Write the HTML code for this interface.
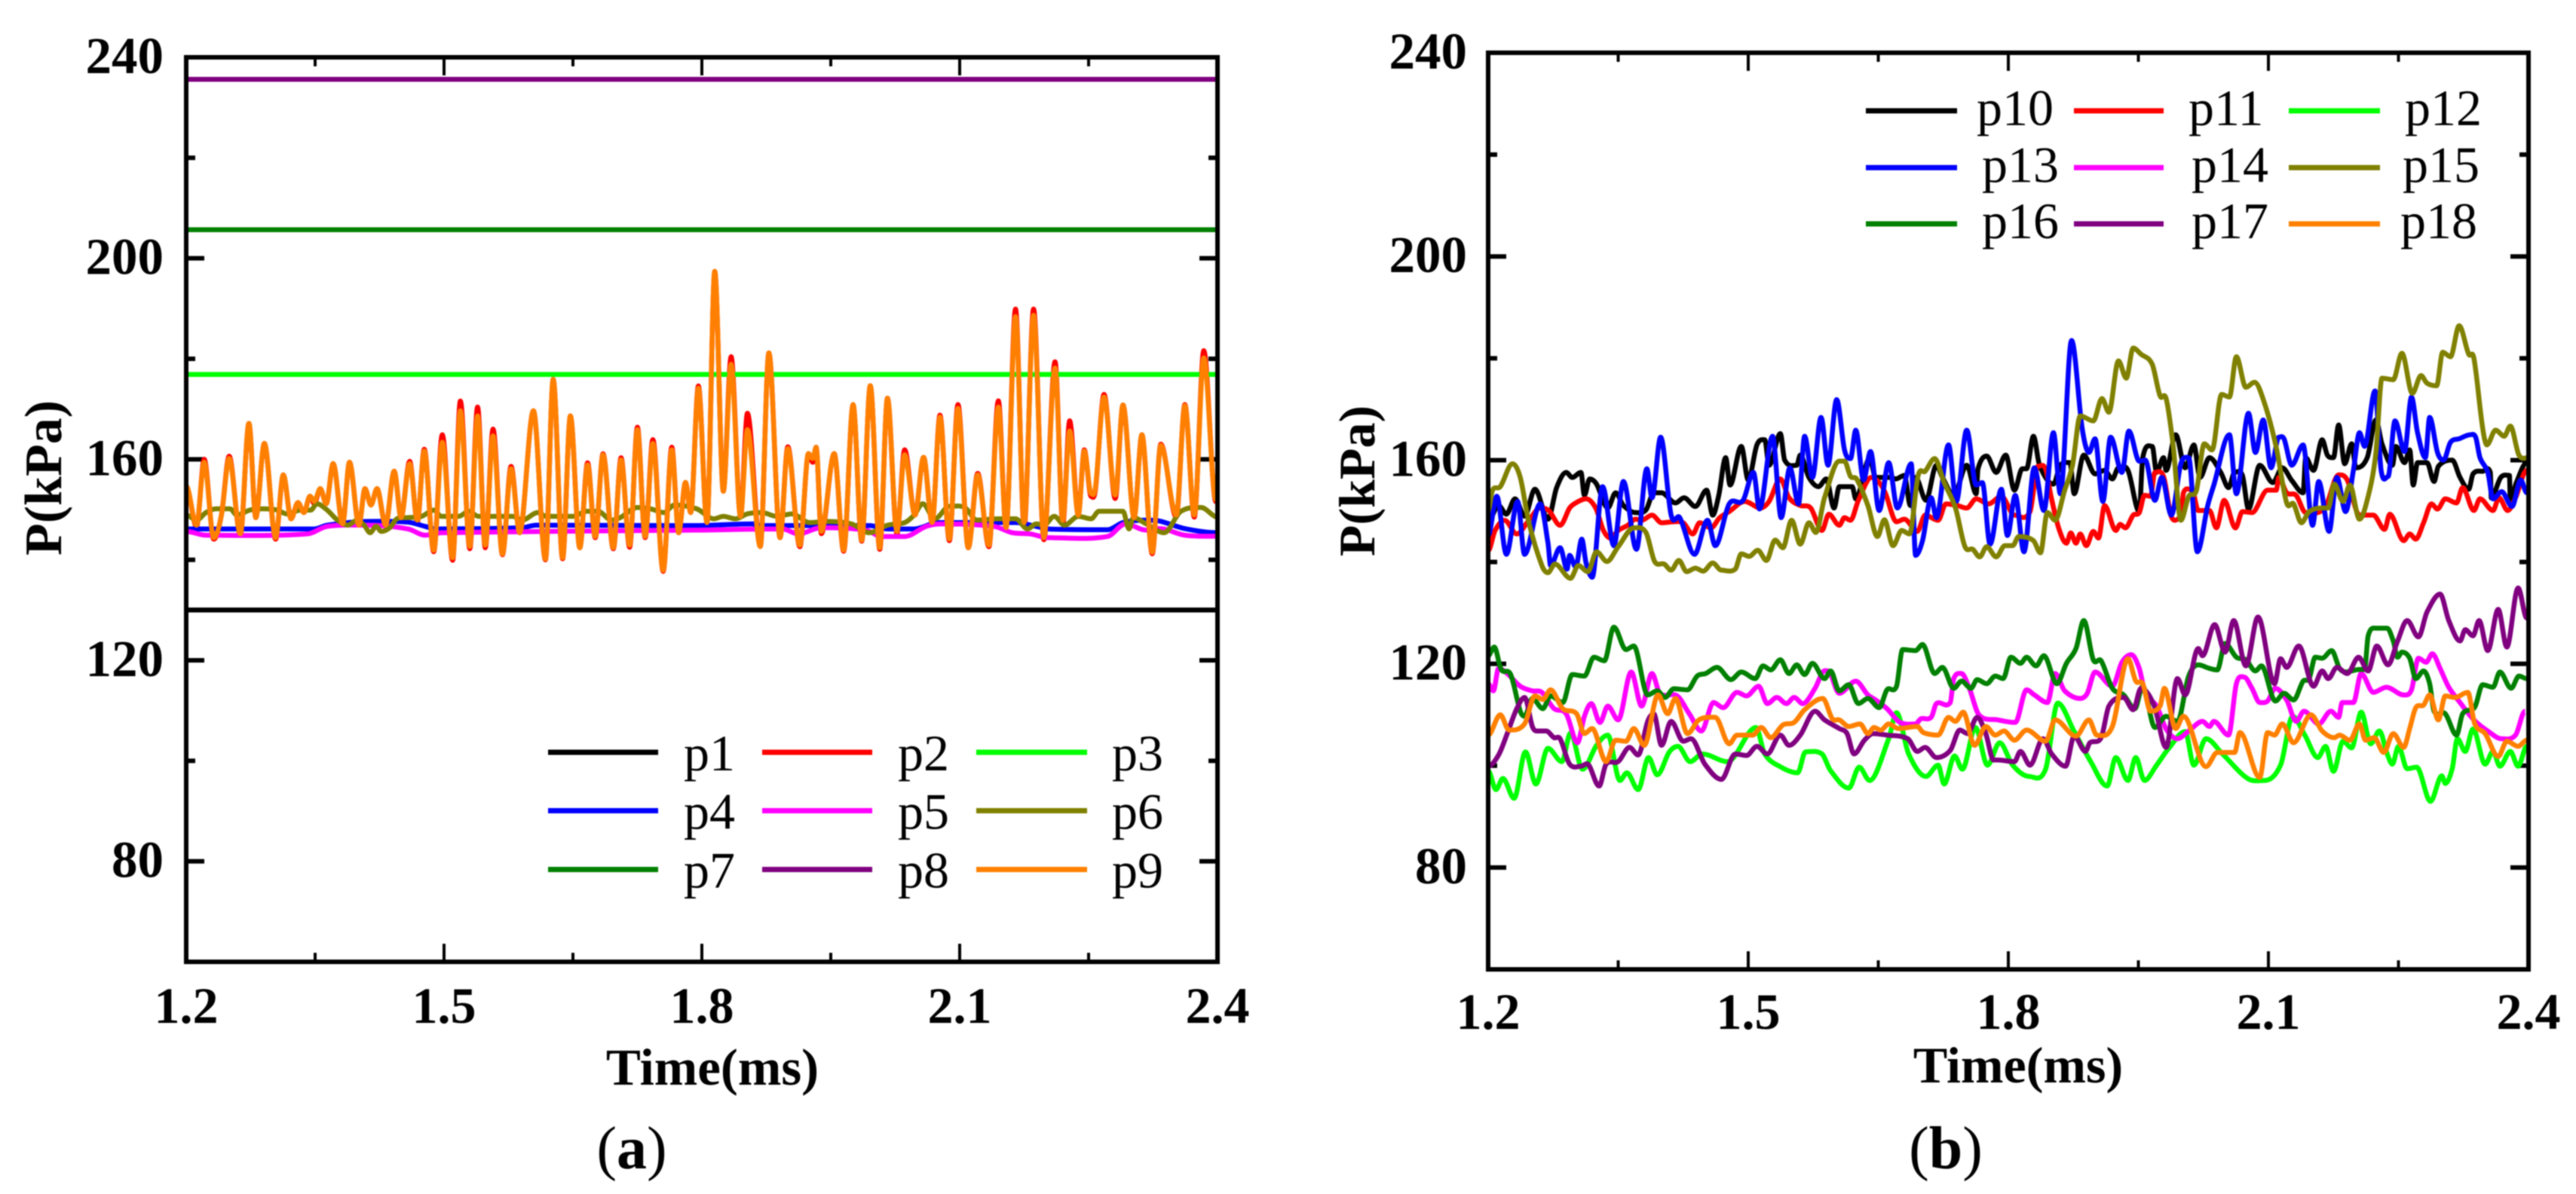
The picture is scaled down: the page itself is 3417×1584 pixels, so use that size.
<!DOCTYPE html>
<html lang="en">
<head>
<meta charset="utf-8">
<title>Pressure vs time charts</title>
<style>
html,body{margin:0;padding:0;background:#fff;}
svg{display:block;filter:blur(0.7px);}
text{font-family:"Liberation Serif",serif;fill:#000;}
.bold{font-weight:bold;}
</style>
</head>
<body>
<svg id="figure" xmlns="http://www.w3.org/2000/svg" width="3417" height="1584" viewBox="0 0 3417 1584">
  <rect width="3417" height="1584" fill="#fff"/>
  <g id="chart-a"></g>
  <g id="chart-b"></g>
  <text class="bold" x="945" y="1439" font-size="69" text-anchor="middle">Time(ms)</text>
  <text class="bold" x="2677" y="1436" font-size="68" text-anchor="middle">Time(ms)</text>
  <text class="bold" transform="translate(81 634) rotate(-90)" font-size="70" text-anchor="middle">P(kPa)</text>
  <text class="bold" transform="translate(1823 638) rotate(-90)" font-size="68" text-anchor="middle">P(kPa)</text>
  <text x="838" y="1550" font-size="80" text-anchor="middle">(<tspan class="bold">a</tspan>)</text>
  <text x="2581" y="1550" font-size="80" text-anchor="middle">(<tspan class="bold">b</tspan>)</text>
</svg>
<script>
const xTickLabels = ["1.2","1.5","1.8","2.1","2.4"];
const xMajorTicks = [1.2,1.5,1.8,2.1,2.4];
const xMinorTicks = [1.35,1.65,1.95,2.25];
const yTickLabels = ["240","200","160","120","80"];
const yMajorTicks = [240,200,160,120,80];
const yMinorTicks = [220,180,140,100];

const p1Points = [[1.2,130],[2.4,130]];
const p3Points = [[1.2,176.9],[2.4,176.9]];
const p7Points = [[1.2,205.7],[2.4,205.7]];
const p8Points = [[1.2,235.6],[2.4,235.6]];
const p4Points = [[1.2,146.15],[1.349,146.15],[1.364,146.9],[1.411,147.65],[1.458,147.5],[1.478,146.65],[1.49,146.15],[1.591,146.4],[1.607,146.9],[1.79,146.8],[1.86,147.15],[1.863,146.8],[1.995,146.8],[2.016,146.15],[2.047,146.15],[2.075,147.4],[2.165,147.4],[2.189,146.65],[2.203,146.15],[2.272,146],[2.29,147.4],[2.317,147.9],[2.333,147.7],[2.362,146.2],[2.4,145.4]];
const p5Points = [[1.2,145.65],[1.223,144.9],[1.341,145.15],[1.364,146.65],[1.411,146.9],[1.458,146.15],[1.478,144.9],[1.497,145.4],[1.79,145.9],[1.894,146.15],[1.912,145.15],[1.939,146.4],[1.991,145.9],[2.009,144.65],[2.036,144.65],[2.061,146.65],[2.078,147.15],[2.14,146.65],[2.161,145.4],[2.182,145.15],[2.203,144.4],[2.272,144.65],[2.293,147.15],[2.317,145.9],[2.333,146.2],[2.362,144.9],[2.4,144.7]];
const p6Points = [[1.2,148.9],[1.212,147.9],[1.223,149.4],[1.235,150.15],[1.251,150.15],[1.259,148.9],[1.274,149.9],[1.29,150.15],[1.306,149.9],[1.317,149.15],[1.333,149.9],[1.345,149.9],[1.352,151.15],[1.364,149.9],[1.376,147.9],[1.388,146.9],[1.399,147.9],[1.407,146.9],[1.414,145.4],[1.421,146.65],[1.427,145.65],[1.437,146.4],[1.445,148.15],[1.458,148.4],[1.474,148.65],[1.488,149.9],[1.497,148.65],[1.517,148.65],[1.529,149.65],[1.54,148.65],[1.56,148.65],[1.58,148.65],[1.591,147.9],[1.609,149.4],[1.619,148.65],[1.65,148.65],[1.666,149.65],[1.679,149.65],[1.695,147.9],[1.705,148.4],[1.725,150.4],[1.74,150.15],[1.756,149.4],[1.768,150.9],[1.794,150.15],[1.814,148.15],[1.825,148.65],[1.839,148.15],[1.853,149.15],[1.87,149.4],[1.887,148.65],[1.905,149.15],[1.925,147.4],[1.946,147.65],[1.974,147.15],[1.995,145.4],[2.016,146.9],[2.036,147.4],[2.047,148.9],[2.057,151.15],[2.071,148.15],[2.088,150.65],[2.106,150.4],[2.12,147.9],[2.144,148.15],[2.165,148.15],[2.179,146.15],[2.189,147.15],[2.198,146.9],[2.21,148.65],[2.222,146.9],[2.238,148.65],[2.253,148.15],[2.262,149.65],[2.29,149.65],[2.297,146.15],[2.302,148.4],[2.317,147.15],[2.338,145.4],[2.357,149.6],[2.381,150.4],[2.4,148.5]];
const p9Points = [[1.2,154.65],[1.212,146.9],[1.221,159.4],[1.232,144.4],[1.241,148.9],[1.25,160.15],[1.263,145.15],[1.273,167.15],[1.281,148.4],[1.291,163.15],[1.304,144.4],[1.313,156.9],[1.322,148.15],[1.33,151.4],[1.337,149.4],[1.344,152.65],[1.349,151.65],[1.356,154.15],[1.363,151.15],[1.371,159.15],[1.382,147.15],[1.39,159.4],[1.401,146.9],[1.408,154.15],[1.415,150.9],[1.422,154.15],[1.432,146.9],[1.442,157.65],[1.45,148.4],[1.46,159.15],[1.469,147.9],[1.477,161.65],[1.488,141.9],[1.498,163.4],[1.51,140.4],[1.519,169.65],[1.53,142.65],[1.539,168.65],[1.548,142.9],[1.557,164.65],[1.568,141.15],[1.578,158.15],[1.588,145.4],[1.604,169.65],[1.618,140.15],[1.627,175.9],[1.638,140.4],[1.647,168.65],[1.658,142.4],[1.667,158.9],[1.676,144.65],[1.685,160.9],[1.697,142.4],[1.706,159.9],[1.716,142.9],[1.725,165.9],[1.734,144.65],[1.743,163.15],[1.755,137.9],[1.765,161.9],[1.773,145.4],[1.781,155.4],[1.787,149.4],[1.796,174.15],[1.806,147.4],[1.815,197.4],[1.825,153.65],[1.834,178.9],[1.845,148.65],[1.853,165.9],[1.868,142.65],[1.878,181.15],[1.891,144.4],[1.9,162.15],[1.914,142.9],[1.924,161.15],[1.929,160.15],[1.933,162.4],[1.939,145.65],[1.954,161.15],[1.965,141.9],[1.976,170.9],[1.986,143.9],[1.996,174.65],[2.007,142.4],[2.016,172.15],[2.027,145.65],[2.036,160.9],[2.048,148.9],[2.058,160.4],[2.068,147.4],[2.077,168.4],[2.088,144.15],[2.098,170.15],[2.11,142.4],[2.121,156.9],[2.134,142.9],[2.145,170.4],[2.154,146.4],[2.165,188.4],[2.175,147.4],[2.186,188.65],[2.198,144.4],[2.211,178.15],[2.22,147.9],[2.228,165.65],[2.238,148.9],[2.245,161.65],[2.253,153.15],[2.258,154.4],[2.268,172.4],[2.281,152.9],[2.29,170.8],[2.303,148.4],[2.312,164.9],[2.324,141.5],[2.334,162.8],[2.352,148.9],[2.362,170.7],[2.373,148.9],[2.384,180.2],[2.398,152]];
const p2Points = [[1.2,154.65],[1.212,146.6],[1.221,160],[1.232,144.1],[1.241,148.9],[1.25,160.6],[1.263,144.9],[1.273,167.15],[1.281,148.4],[1.291,163.15],[1.304,144.1],[1.313,156.9],[1.322,148.15],[1.33,151.4],[1.337,149.4],[1.344,152.65],[1.349,151.2],[1.356,154.15],[1.363,151.15],[1.371,159.15],[1.382,147.15],[1.39,159.4],[1.401,146.9],[1.408,154.15],[1.415,150.9],[1.422,154.15],[1.432,146.9],[1.442,157.65],[1.45,148.4],[1.46,159.6],[1.469,147.6],[1.477,162],[1.488,141.6],[1.498,164.9],[1.51,139.9],[1.519,171.6],[1.53,142.2],[1.539,170.4],[1.548,142.4],[1.557,166],[1.568,141],[1.578,158.6],[1.588,145.4],[1.604,169.65],[1.618,140],[1.627,175.9],[1.638,140.2],[1.647,168.65],[1.658,142.4],[1.667,159.3],[1.676,144.4],[1.685,161.1],[1.697,142.2],[1.706,160.3],[1.716,142.5],[1.725,166.4],[1.734,144.4],[1.743,163.9],[1.755,137.7],[1.765,162.4],[1.773,145.4],[1.781,155.4],[1.787,149.4],[1.796,174.6],[1.806,147.4],[1.815,197.4],[1.825,153.65],[1.834,180.4],[1.845,148.65],[1.853,169.15],[1.868,142.65],[1.878,181.15],[1.891,144.4],[1.9,162.5],[1.914,142.6],[1.924,161.15],[1.929,159.4],[1.933,162.4],[1.939,145.2],[1.954,161.15],[1.965,141.7],[1.976,170.9],[1.986,143.7],[1.996,174.65],[2.007,142.1],[2.016,172.15],[2.027,145.2],[2.036,161.9],[2.048,148.9],[2.058,160.4],[2.068,147.4],[2.077,168.8],[2.088,143.8],[2.098,170.9],[2.11,142.4],[2.121,157.2],[2.134,142.6],[2.145,171.65],[2.154,146.4],[2.165,189.9],[2.175,146.6],[2.186,189.9],[2.198,144],[2.211,179.4],[2.22,147.2],[2.228,167.65],[2.238,148.9],[2.245,161.9],[2.253,152.6],[2.258,154],[2.268,172.9],[2.281,152.2],[2.29,170.8],[2.303,148.4],[2.312,164.9],[2.324,141.2],[2.334,163],[2.352,148.5],[2.362,170.9],[2.373,148.5],[2.384,181.6],[2.398,151.6]];

const p10Points = [[1.2,148],[1.212,151.1],[1.221,149.4],[1.231,152.4],[1.242,149],[1.254,154.3],[1.269,148.4],[1.279,154.6],[1.29,157.6],[1.297,156.6],[1.307,157.6],[1.311,153.1],[1.317,156.3],[1.325,155.3],[1.338,150.6],[1.347,153.6],[1.356,151.1],[1.37,149.7],[1.382,150.2],[1.391,153.6],[1.4,153.6],[1.416,151.6],[1.426,152.6],[1.439,150.9],[1.452,154.1],[1.459,149.2],[1.466,153.1],[1.474,160.5],[1.479,155.1],[1.492,162.7],[1.5,156.1],[1.51,163],[1.519,164],[1.524,159],[1.537,165.2],[1.542,160],[1.556,159],[1.56,161],[1.57,156.6],[1.581,154.8],[1.59,156.3],[1.599,150.6],[1.605,154.8],[1.62,154.8],[1.624,152.4],[1.64,160.3],[1.647,156.6],[1.664,156.6],[1.67,156.3],[1.68,157],[1.687,151.1],[1.693,156.6],[1.705,152.1],[1.717,159],[1.724,156.6],[1.737,153.1],[1.752,159],[1.763,153.4],[1.765,158.3],[1.775,160.8],[1.786,157.6],[1.797,161],[1.807,154.1],[1.816,158.3],[1.821,158.3],[1.829,164.7],[1.836,159],[1.852,155.3],[1.86,159],[1.871,159.5],[1.876,153.4],[1.887,161],[1.9,157.3],[1.911,158],[1.92,156.3],[1.927,158.5],[1.938,158],[1.951,149.9],[1.955,160.5],[1.966,162.7],[1.971,157.6],[1.979,160.5],[1.982,158],[1.993,165],[2.004,158.5],[2.014,163],[2.021,156.6],[2.032,160.5],[2.045,157.6],[2.054,154.6],[2.061,157.6],[2.07,157],[2.077,150.4],[2.09,159],[2.105,155.6],[2.116,158.5],[2.127,156],[2.14,153.6],[2.143,160.5],[2.152,158],[2.162,164],[2.168,161],[2.175,160.5],[2.181,166.9],[2.188,159.3],[2.196,163.2],[2.201,158.5],[2.214,160.5],[2.224,167.9],[2.231,163.2],[2.243,159],[2.247,162.7],[2.257,159.5],[2.263,162],[2.267,155.1],[2.272,159.5],[2.283,159.5],[2.291,155.8],[2.296,158.8],[2.312,160],[2.321,156.6],[2.331,154.3],[2.336,157.3],[2.347,157.8],[2.356,157.6],[2.357,152.6],[2.368,156.6],[2.378,157],[2.379,152.1],[2.386,155.6],[2.398,159.5]];
const p11Points = [[1.2,142.2],[1.208,146.2],[1.219,148.2],[1.233,145.5],[1.247,148.2],[1.26,150.6],[1.27,150.1],[1.283,147.2],[1.294,150.6],[1.301,151.6],[1.313,152.4],[1.324,150.6],[1.333,146.2],[1.341,144.7],[1.35,146.2],[1.361,147.2],[1.37,148.4],[1.377,148.2],[1.389,149.2],[1.4,147.7],[1.414,147.9],[1.425,147.7],[1.436,145.5],[1.444,147.7],[1.457,146.7],[1.467,148.7],[1.478,149.9],[1.496,151.9],[1.514,150.6],[1.524,151.9],[1.537,156.3],[1.547,152.6],[1.56,151.1],[1.572,150.6],[1.585,146.2],[1.593,149.4],[1.605,147.2],[1.611,148.7],[1.618,148.2],[1.627,152.1],[1.642,156.6],[1.651,155.6],[1.658,153.6],[1.671,147.9],[1.68,148.4],[1.695,146],[1.704,149.2],[1.719,148.2],[1.728,151.4],[1.741,151.1],[1.752,150.6],[1.763,152.4],[1.777,151.4],[1.792,152.9],[1.807,149.2],[1.825,149.9],[1.834,158.8],[1.843,158.3],[1.849,153.1],[1.858,146.7],[1.867,143.7],[1.872,145.7],[1.878,143.7],[1.883,145.5],[1.89,143.2],[1.898,146],[1.904,144.7],[1.911,151.1],[1.924,146.2],[1.929,147.4],[1.935,146.7],[1.944,149.2],[1.951,149.7],[1.957,153.1],[1.964,152.9],[1.969,157.6],[1.979,156.8],[1.988,148.9],[1.999,148.7],[2.002,153.6],[2.012,154.1],[2.019,150.1],[2.032,150.1],[2.04,146.7],[2.049,152.1],[2.062,146.7],[2.07,149.9],[2.081,149.7],[2.099,154.1],[2.109,154.1],[2.112,156.6],[2.121,153.6],[2.132,153.1],[2.143,149.7],[2.165,150.6],[2.181,157.1],[2.191,156.1],[2.205,149.2],[2.221,149.2],[2.234,146.4],[2.24,149.4],[2.256,144.2],[2.263,145.5],[2.27,144.5],[2.279,147.7],[2.288,151.4],[2.295,150.4],[2.304,152.4],[2.317,151.6],[2.324,154.6],[2.337,150.1],[2.344,152.4],[2.359,150.1],[2.366,152.6],[2.376,150.1],[2.385,152.6],[2.398,158]];
const p12Points = [[1.2,99],[1.209,95.3],[1.217,97.5],[1.23,93.6],[1.243,102.7],[1.255,96.4],[1.269,103.4],[1.285,100.8],[1.295,106.4],[1.309,99.3],[1.325,104],[1.338,106],[1.352,97.1],[1.36,98.6],[1.373,95.3],[1.385,101.6],[1.395,98.2],[1.409,102.7],[1.419,103.8],[1.433,100.8],[1.447,102.3],[1.476,100.8],[1.509,107.5],[1.519,102.3],[1.538,99.7],[1.557,98.6],[1.566,102.7],[1.585,102.3],[1.595,99],[1.616,95.6],[1.628,99.7],[1.64,97.1],[1.662,105.3],[1.671,110.4],[1.685,102.3],[1.705,97.9],[1.719,100.1],[1.726,96.4],[1.738,101.9],[1.747,99.3],[1.762,107.5],[1.776,100.1],[1.79,104.5],[1.805,100.1],[1.824,97.9],[1.843,99.3],[1.857,112.3],[1.876,106.7],[1.895,100.8],[1.914,96],[1.924,101.6],[1.938,97.1],[1.947,101.6],[1.957,97.1],[1.971,100.1],[1.985,103.4],[2.004,106.7],[2.014,100.1],[2.028,105.3],[2.047,102.3],[2.076,97.5],[2.095,97.1],[2.114,100.1],[2.128,109.7],[2.142,106],[2.157,101.6],[2.166,103.8],[2.175,98.9],[2.186,104.8],[2.196,103.5],[2.207,110.5],[2.218,104.3],[2.228,106.8],[2.237,102.3],[2.243,100.3],[2.25,103.8],[2.26,99.4],[2.271,99.7],[2.287,93],[2.3,98],[2.304,96.5],[2.312,99.4],[2.318,105.3],[2.327,102.8],[2.336,107.2],[2.35,100.3],[2.359,102.8],[2.367,99.9],[2.379,102.8],[2.388,99.9],[2.398,103.8]];
const p13Points = [[1.2,145.2],[1.21,152.9],[1.221,141.5],[1.234,151.9],[1.242,141.5],[1.26,151.4],[1.269,143.8],[1.272,139.3],[1.283,142.8],[1.291,138.6],[1.294,141.3],[1.301,139],[1.308,144.5],[1.313,139.8],[1.32,137],[1.332,154.8],[1.345,143.2],[1.356,155.8],[1.371,142.5],[1.383,158.3],[1.389,152.6],[1.399,164.5],[1.411,149.2],[1.421,148.7],[1.438,141.5],[1.453,148.2],[1.462,143.2],[1.478,151.4],[1.494,152.1],[1.506,157.6],[1.513,150.4],[1.528,164.7],[1.538,148.7],[1.548,158.5],[1.558,151.4],[1.565,164.7],[1.574,156.6],[1.584,168.4],[1.592,159],[1.602,171.9],[1.611,162],[1.618,160.3],[1.624,165.9],[1.633,156.1],[1.641,161.7],[1.651,150.1],[1.662,159.5],[1.672,150.6],[1.688,159.3],[1.693,141.3],[1.701,144.2],[1.711,152.6],[1.717,148.7],[1.731,163],[1.74,151.9],[1.752,165.9],[1.763,155.1],[1.77,155.6],[1.779,143.5],[1.792,154.3],[1.799,145.2],[1.808,153.1],[1.818,142],[1.83,158.5],[1.841,150.1],[1.852,165.4],[1.86,153.4],[1.873,183.5],[1.885,166.4],[1.893,161.5],[1.9,164.2],[1.909,151.9],[1.918,164.5],[1.931,157.6],[1.939,165.7],[1.951,159.8],[1.958,160],[1.969,152.1],[1.977,156.6],[1.988,149.2],[1.999,159.3],[2.008,160.5],[2.018,142],[2.03,151.1],[2.037,155.1],[2.055,165],[2.063,153.4],[2.077,169.2],[2.085,161.5],[2.094,167.9],[2.103,158.5],[2.112,164.5],[2.118,164.2],[2.127,159],[2.14,163],[2.151,147.2],[2.158,155.8],[2.17,146],[2.179,156.6],[2.189,149.9],[2.198,158],[2.205,165.4],[2.211,162.7],[2.223,173.6],[2.23,158],[2.238,156.8],[2.246,167.7],[2.257,161.7],[2.265,172.4],[2.272,165.4],[2.281,160.5],[2.286,168.4],[2.295,161.5],[2.302,160],[2.31,163.5],[2.32,164.2],[2.333,165],[2.339,164.5],[2.344,160.5],[2.353,157.6],[2.359,152.4],[2.369,153.8],[2.381,150.9],[2.391,156.1],[2.398,153.6]];
const p14Points = [[1.2,116.1],[1.206,114.7],[1.212,119.1],[1.222,118.1],[1.237,115.6],[1.251,114.7],[1.262,114.4],[1.276,111.2],[1.29,110.2],[1.303,104.5],[1.311,109.7],[1.319,112.2],[1.329,108.5],[1.338,111.7],[1.35,109],[1.365,118.4],[1.377,111.7],[1.389,118.1],[1.398,114.2],[1.418,113.7],[1.432,110.2],[1.446,106.8],[1.46,112.4],[1.471,111.4],[1.487,114.4],[1.498,113.7],[1.512,115.6],[1.522,112.2],[1.533,113.4],[1.544,112.2],[1.553,113.4],[1.563,112.2],[1.577,115.2],[1.586,118.4],[1.592,118.6],[1.605,114.2],[1.624,116.6],[1.638,113.9],[1.647,112.9],[1.66,111.2],[1.675,108.5],[1.693,108.2],[1.699,109.2],[1.711,109.5],[1.717,112.2],[1.733,112.4],[1.737,117.1],[1.746,118.1],[1.755,115.2],[1.766,110],[1.788,109],[1.808,108.5],[1.821,114.9],[1.83,113.9],[1.845,112.4],[1.854,118.1],[1.865,114.7],[1.883,113.2],[1.891,114.2],[1.9,118.4],[1.92,115.6],[1.931,120.3],[1.942,121.8],[1.951,119.1],[1.958,114.2],[1.971,111.7],[1.982,107.2],[1.995,105.3],[2.008,106.8],[2.024,108.7],[2.032,107.7],[2.037,108.7],[2.054,106],[2.063,116.1],[2.072,117.4],[2.081,115.2],[2.09,112.4],[2.099,112.7],[2.108,115.2],[2.121,112.9],[2.132,108.7],[2.141,110.7],[2.158,108.2],[2.172,110.7],[2.181,109.5],[2.185,112.4],[2.198,112.4],[2.207,118.1],[2.221,114.4],[2.236,115.4],[2.256,113.9],[2.265,114.9],[2.273,121.1],[2.282,120.3],[2.289,122],[2.298,119.1],[2.308,115.4],[2.321,112.4],[2.337,109],[2.353,106.8],[2.369,105.3],[2.385,106],[2.396,110.7]];
const p15Points = [[1.2,150.1],[1.205,154.1],[1.214,154.8],[1.228,159.3],[1.237,156.6],[1.247,147.7],[1.262,139.3],[1.269,137.9],[1.277,139.6],[1.295,136.8],[1.304,139.3],[1.315,138.1],[1.325,142],[1.337,140.1],[1.35,143],[1.368,146.7],[1.382,145.8],[1.392,140.1],[1.403,139.6],[1.411,138.4],[1.42,140.3],[1.429,138.1],[1.439,138.8],[1.448,138.2],[1.459,139.8],[1.469,138.4],[1.485,138.6],[1.492,141.6],[1.501,141.1],[1.511,142.3],[1.521,140.3],[1.531,144.3],[1.54,142.8],[1.55,148.2],[1.56,143.5],[1.57,147.7],[1.578,145.8],[1.588,152.6],[1.605,159.8],[1.611,159.8],[1.618,156.8],[1.625,156.3],[1.638,151.1],[1.649,145],[1.657,148.3],[1.667,143.2],[1.677,146.2],[1.686,145.5],[1.696,157],[1.704,157.8],[1.715,160.3],[1.726,155.6],[1.739,150.6],[1.75,143],[1.759,142.5],[1.767,141],[1.775,143],[1.786,141],[1.796,143.2],[1.805,143.2],[1.812,145],[1.829,144.2],[1.837,141.8],[1.845,149.7],[1.854,148.2],[1.865,154.1],[1.874,159],[1.883,168.7],[1.898,167.7],[1.908,172.1],[1.916,169.4],[1.927,179.5],[1.936,176.1],[1.944,182],[1.953,180.8],[1.966,178.8],[1.975,172.6],[1.982,172.1],[1.99,163],[1.999,148.2],[2.008,152.9],[2.017,154.1],[2.026,163.2],[2.035,162],[2.046,172.9],[2.055,172.4],[2.063,180.3],[2.074,174.3],[2.084,175.3],[2.096,170.9],[2.109,162.5],[2.121,151.6],[2.129,151.4],[2.138,147.7],[2.147,149.9],[2.162,150.6],[2.169,150.6],[2.176,155.3],[2.186,151.9],[2.194,155.1],[2.205,148.4],[2.217,154.3],[2.224,161.5],[2.231,176.1],[2.244,175.8],[2.254,181],[2.266,173.1],[2.276,176.6],[2.283,175.1],[2.294,174.6],[2.301,181.2],[2.31,180.3],[2.32,186.4],[2.331,180.8],[2.337,180],[2.347,166.4],[2.352,163],[2.362,165.9],[2.372,164.7],[2.379,166.7],[2.389,161],[2.399,160.5]];
const p16Points = [[1.2,121.6],[1.207,123.3],[1.215,118.9],[1.226,117.9],[1.237,110.7],[1.242,109.7],[1.251,113.2],[1.263,111.2],[1.272,113.7],[1.286,112.4],[1.297,117.9],[1.311,117.6],[1.322,121.3],[1.334,120.6],[1.345,127.2],[1.359,122.8],[1.368,123.5],[1.384,113.9],[1.395,114.7],[1.404,113.4],[1.414,115.1],[1.43,114.9],[1.441,117.6],[1.451,118.1],[1.464,119.3],[1.48,116.9],[1.492,118.4],[1.508,117.1],[1.517,119.6],[1.526,118.8],[1.537,120.8],[1.547,118.1],[1.556,119.8],[1.565,117.9],[1.574,120.1],[1.588,117.1],[1.595,118.6],[1.605,114.7],[1.616,115.9],[1.627,112.2],[1.638,113.2],[1.651,111.4],[1.66,114.9],[1.671,115.6],[1.678,122.8],[1.693,122.6],[1.701,123.8],[1.715,118.1],[1.724,119.3],[1.737,115.2],[1.746,116.6],[1.757,115.2],[1.764,116.9],[1.775,116.1],[1.785,117.6],[1.794,117.1],[1.803,121.3],[1.814,120.1],[1.821,121.3],[1.832,119.6],[1.841,121.6],[1.856,116.1],[1.867,120.1],[1.878,123],[1.887,128.5],[1.898,120.8],[1.907,120.6],[1.92,115.2],[1.933,113.9],[1.946,111.2],[1.955,115.6],[1.969,107.5],[1.982,109.7],[1.995,108.7],[2.008,117.6],[2.019,119.8],[2.032,119.1],[2.041,118.8],[2.05,124],[2.063,121.3],[2.074,120.8],[2.085,118.6],[2.092,119.6],[2.108,112.7],[2.118,114.2],[2.129,112.9],[2.14,116.6],[2.147,117.1],[2.154,121.3],[2.162,121.1],[2.173,122.6],[2.182,119.1],[2.189,118.4],[2.205,118.9],[2.211,118.9],[2.215,125.5],[2.224,127],[2.237,127],[2.244,124.5],[2.249,121.3],[2.254,122.3],[2.263,121.1],[2.27,117.1],[2.279,118.6],[2.286,116.1],[2.291,110.7],[2.304,110.2],[2.317,106],[2.324,110.2],[2.338,111.5],[2.347,115.9],[2.359,115.4],[2.367,118.4],[2.38,115.2],[2.389,117.6],[2.398,117.1]];
const p17Points = [[1.2,99.9],[1.212,102.1],[1.222,106.3],[1.233,111.2],[1.242,113.4],[1.251,107.7],[1.256,106.8],[1.267,106.8],[1.276,105.5],[1.283,105.3],[1.294,100.3],[1.307,99.9],[1.314,100.4],[1.328,96],[1.336,100.3],[1.35,100.8],[1.363,103.6],[1.373,102.1],[1.384,108.7],[1.391,110.2],[1.4,104],[1.411,108.7],[1.425,104.8],[1.434,105.3],[1.45,100.3],[1.469,97.3],[1.485,102.3],[1.498,102],[1.51,103.8],[1.522,102.3],[1.537,106],[1.547,104],[1.56,106],[1.577,110.7],[1.588,109],[1.605,107.3],[1.614,106.3],[1.622,102.3],[1.634,105],[1.644,106.3],[1.66,106],[1.684,105.3],[1.695,102.8],[1.704,103.6],[1.717,101.6],[1.733,103],[1.744,107],[1.753,106.3],[1.764,109.5],[1.774,106.3],[1.783,101.1],[1.788,101.1],[1.807,100.8],[1.814,102.8],[1.825,100.1],[1.84,105.3],[1.85,102.3],[1.866,99.9],[1.876,105.8],[1.889,102.8],[1.894,104.5],[1.907,105.5],[1.916,111.7],[1.933,113.4],[1.944,111],[1.953,115.2],[1.968,111.9],[1.982,103.6],[1.995,117.1],[2.004,113.9],[2.019,123],[2.024,121.6],[2.038,127.7],[2.05,122.3],[2.06,128.5],[2.074,119.6],[2.088,129.2],[2.107,116.1],[2.114,121],[2.121,119.3],[2.135,123.5],[2.152,115.6],[2.162,118.6],[2.169,117.1],[2.179,119.3],[2.191,118.1],[2.204,121.3],[2.215,118.6],[2.225,123.5],[2.238,119.8],[2.249,124.5],[2.26,128.5],[2.273,125.3],[2.283,130.2],[2.298,133.7],[2.308,128.5],[2.321,124.5],[2.327,126.7],[2.336,125.5],[2.343,128.5],[2.353,122.6],[2.365,130.7],[2.375,123.3],[2.388,134.9],[2.398,129]];
const p18Points = [[1.2,106],[1.214,110],[1.224,107],[1.242,108.2],[1.254,113.7],[1.263,113],[1.272,114.9],[1.286,111.2],[1.302,110.2],[1.311,106.3],[1.32,107.3],[1.336,100.8],[1.347,105],[1.359,104.8],[1.368,107.3],[1.38,104],[1.396,113.9],[1.407,110.2],[1.416,113.2],[1.43,106.3],[1.443,109],[1.462,109.5],[1.478,104.3],[1.487,106],[1.505,106],[1.515,107.5],[1.526,105.5],[1.54,108],[1.553,108.5],[1.565,111],[1.586,113.2],[1.597,109.2],[1.605,109],[1.616,107.7],[1.629,108.2],[1.638,106.3],[1.645,107.5],[1.653,107],[1.662,108.2],[1.673,107.3],[1.695,107.7],[1.702,106.5],[1.719,106],[1.731,109.5],[1.739,108.7],[1.748,110.5],[1.761,104],[1.774,107.7],[1.785,106],[1.795,106.8],[1.807,105],[1.821,107],[1.843,104.8],[1.854,109],[1.878,105.8],[1.893,109],[1.902,106],[1.92,107.7],[1.938,121],[1.947,116.6],[1.955,116.1],[1.964,110.7],[1.975,111.7],[1.98,115.2],[1.993,107.3],[2.002,109.7],[2.028,99.8],[2.041,102.6],[2.061,102.6],[2.067,106.5],[2.09,97.7],[2.099,106.5],[2.107,106],[2.116,108.2],[2.129,104.5],[2.149,110],[2.162,106.8],[2.176,105.5],[2.182,106],[2.194,105],[2.205,108.2],[2.212,105],[2.222,105.5],[2.233,102.6],[2.244,106.3],[2.256,103.6],[2.263,107.3],[2.27,111.4],[2.279,111.9],[2.286,113.9],[2.296,109],[2.304,113.7],[2.315,113.4],[2.33,114.4],[2.338,108.2],[2.35,106.3],[2.365,101.8],[2.375,104.8],[2.388,103.8],[2.398,105]];

const NS = "http://www.w3.org/2000/svg";
function mk(parent, tag, props){
  const el = document.createElementNS(NS, tag);
  for(const k in props){ el.setAttribute(k, props[k]); }
  parent.appendChild(el);
  return el;
}
function linearScale(d0, d1, r0, r1){
  return function(v){ return r0 + (v - d0) / (d1 - d0) * (r1 - r0); };
}
function smoothPath(px){
  const n = px.length;
  const m = px.map(function(p, i){
    if(i === 0 || i === n - 1){ return 0; }
    const a = p[1] - px[i - 1][1], b = px[i + 1][1] - p[1];
    if(a * b <= 0){ return 0; }
    return (px[i + 1][1] - px[i - 1][1]) / (px[i + 1][0] - px[i - 1][0]);
  });
  let d = "M" + px[0][0].toFixed(1) + " " + px[0][1].toFixed(1);
  for(let i = 1; i < n; i++){
    const h = (px[i][0] - px[i - 1][0]) / 3;
    d += "C" + (px[i - 1][0] + h).toFixed(1) + " " + (px[i - 1][1] + m[i - 1] * h).toFixed(1) + " " +
         (px[i][0] - h).toFixed(1) + " " + (px[i][1] - m[i] * h).toFixed(1) + " " +
         px[i][0].toFixed(1) + " " + px[i][1].toFixed(1);
  }
  return d;
}
function drawChart(cfg){
  const g = document.getElementById(cfg.id);
  const xScale = linearScale(1.2, 2.4, cfg.left, cfg.right);
  const yScale = linearScale(60, 240, cfg.bottom, cfg.top);

  xMajorTicks.forEach(function(t, i){
    const x = xScale(t);
    const top = mk(g, "line", {x1:x, x2:x, y1:cfg.top, y2:cfg.top + 24, stroke:"#000", "stroke-width":4});
    
    
    const bot = mk(g, "line", {x1:x, x2:x, y1:cfg.bottom, y2:cfg.bottom - 24, stroke:"#000", "stroke-width":4});
    
    
    const label = mk(g, "text", {x:x, y:cfg.xLabelY, "font-size":68, "text-anchor":"middle", "font-weight":"bold"});
    label.textContent = xTickLabels[i];
    
    
  });
  xMinorTicks.forEach(function(t){
    const x = xScale(t);
    const top = mk(g, "line", {x1:x, x2:x, y1:cfg.top, y2:cfg.top + 12, stroke:"#000", "stroke-width":4});
    
    
    const bot = mk(g, "line", {x1:x, x2:x, y1:cfg.bottom, y2:cfg.bottom - 12, stroke:"#000", "stroke-width":4});
    
    
  });
  yMajorTicks.forEach(function(v, i){
    const y = yScale(v);
    const l = mk(g, "line", {x1:cfg.left, x2:cfg.left + 24, y1:y, y2:y, stroke:"#000", "stroke-width":6});
    
    
    const r = mk(g, "line", {x1:cfg.right, x2:cfg.right - 24, y1:y, y2:y, stroke:"#000", "stroke-width":6});
    
    
    const label = mk(g, "text", {x:cfg.yLabelRight, y:y + 21, "font-size":69, "text-anchor":"end", "font-weight":"bold"});
    label.textContent = yTickLabels[i];
    
    
  });
  yMinorTicks.forEach(function(v){
    const y = yScale(v);
    const l = mk(g, "line", {x1:cfg.left, x2:cfg.left + 12, y1:y, y2:y, stroke:"#000", "stroke-width":6});
    
    
    const r = mk(g, "line", {x1:cfg.right, x2:cfg.right - 12, y1:y, y2:y, stroke:"#000", "stroke-width":6});
    
    
  });

  cfg.series.forEach(function(s){
    const px = s.points.map(function(p){ return [xScale(p[0]), yScale(p[1])]; });
    const path = mk(g, "path", {d:smoothPath(px), fill:"none", stroke:s.color, "stroke-width":6.5, "stroke-linejoin":"round", "stroke-linecap":"butt"});
    
    
  });

  const frame = mk(g, "rect", {x:cfg.left, y:cfg.top, width:cfg.right - cfg.left, height:cfg.bottom - cfg.top, fill:"none", stroke:"#000", "stroke-width":6});
  
  

  cfg.series.forEach(function(s, i){
    const col = i % 3, row = Math.floor(i / 3);
    const y = cfg.legendRows[row];
    const hx = cfg.legendHandles[col];
    const handle = mk(g, "line", {x1:hx[0], x2:hx[1], y1:y, y2:y, stroke:s.color, "stroke-width":7});
    
    
    const label = mk(g, "text", {x:cfg.legendText[row][col], y:y + cfg.legendBaseline, "font-size":68});
    label.textContent = s.name;
    
    
  });
}

drawChart({
  id:"chart-a", left:247, right:1615, top:76, bottom:1276, xLabelY:1357, yLabelRight:217,
  legendRows:[998,1075.5,1153.5], legendHandles:[[727,873],[1011,1157],[1295,1442]],
  legendText:[[907,1191,1475],[907,1191,1475],[907,1191,1475]], legendBaseline:24,
  series:[
    {name:"p1",color:"#000000",points:p1Points},
    {name:"p2",color:"#ff0000",points:p2Points},
    {name:"p3",color:"#00ff00",points:p3Points},
    {name:"p4",color:"#0000ff",points:p4Points},
    {name:"p5",color:"#ff00ff",points:p5Points},
    {name:"p6",color:"#808000",points:p6Points},
    {name:"p7",color:"#008000",points:p7Points},
    {name:"p8",color:"#800080",points:p8Points},
    {name:"p9",color:"#ff8000",points:p9Points}
  ]
});
drawChart({
  id:"chart-b", left:1974, right:3354, top:70, bottom:1286, xLabelY:1365, yLabelRight:1946,
  legendRows:[147,222.4,297], legendHandles:[[2475,2596],[2751,2870],[3036,3157]],
  legendText:[[2622,2903,3190],[2629,2907,3187],[2629,2907,3184]], legendBaseline:19,
  series:[
    {name:"p10",color:"#000000",points:p10Points},
    {name:"p11",color:"#ff0000",points:p11Points},
    {name:"p12",color:"#00ff00",points:p12Points},
    {name:"p13",color:"#0000ff",points:p13Points},
    {name:"p14",color:"#ff00ff",points:p14Points},
    {name:"p15",color:"#808000",points:p15Points},
    {name:"p16",color:"#008000",points:p16Points},
    {name:"p17",color:"#800080",points:p17Points},
    {name:"p18",color:"#ff8000",points:p18Points}
  ]
});
</script>
</body>
</html>
